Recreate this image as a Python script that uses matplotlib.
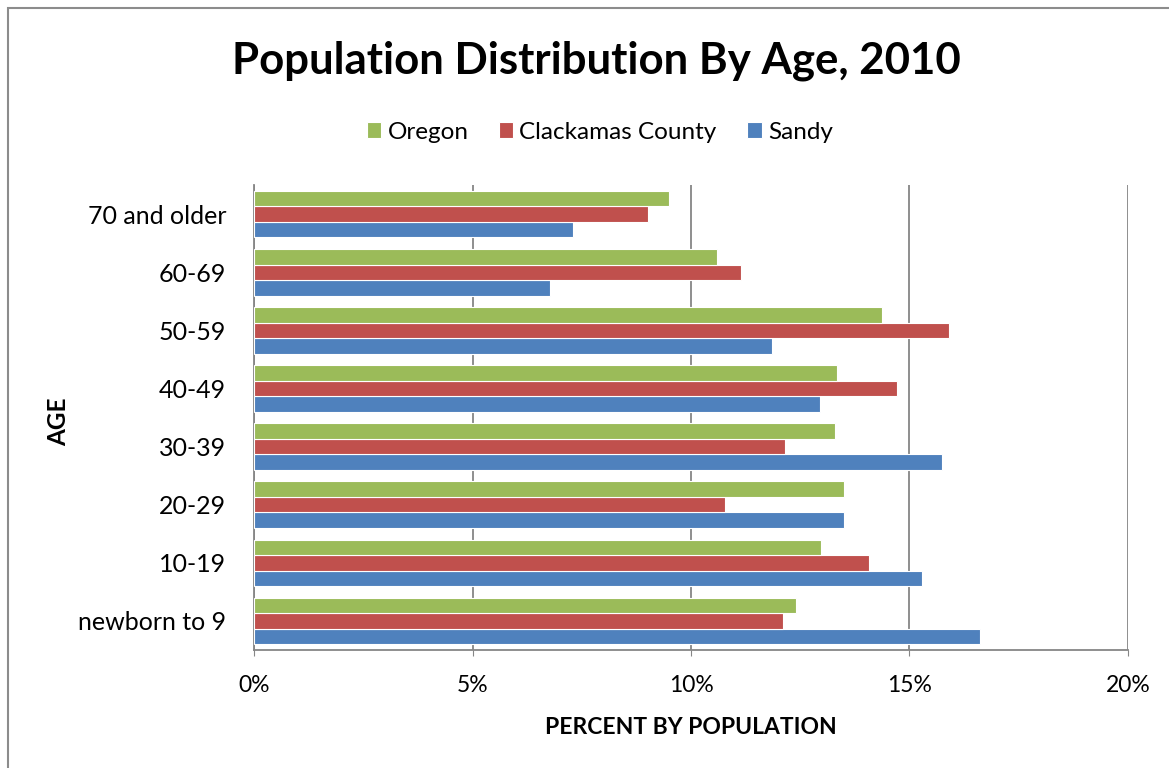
import matplotlib.pyplot as plt
import numpy as np
from matplotlib.patches import Rectangle
from matplotlib.ticker import FuncFormatter, MultipleLocator

plt.rcParams["font.family"] = ["Lato", "DejaVu Sans"]

# Share of population in each age group, percent
age_groups = ["newborn to 9", "10-19", "20-29", "30-39",
              "40-49", "50-59", "60-69", "70 and older"]
oregon = [12.4, 12.97, 13.5, 13.3, 13.34, 14.37, 10.6, 9.5]
clackamas = [12.1, 14.07, 10.78, 12.15, 14.71, 15.9, 11.14, 9.02]
sandy = [16.61, 15.29, 13.5, 15.74, 12.95, 11.85, 6.77, 7.3]

series = [
    ("Sandy", sandy, "#4F81BD"),
    ("Clackamas County", clackamas, "#C0504D"),
    ("Oregon", oregon, "#9BBB59"),
]

fig = plt.figure(figsize=(11.69, 7.68), dpi=100)
ax = fig.add_axes([0.2173, 0.1536, 0.7476, 0.6054])

# outer chart border
fig.patches.append(Rectangle((0.007, -0.05), 1.2, 1.039, transform=fig.transFigure,
                             fill=False, edgecolor="#8c8c8c", linewidth=1.5))

y = np.arange(len(age_groups))
bar_h = 0.267
handles = {}
for i, (name, values, color) in enumerate(series):
    bars = ax.barh(y + (i - 1) * bar_h, values, height=bar_h, color=color,
                   edgecolor="white", linewidth=0.8, zorder=3)
    handles[name] = bars

ax.set_xlim(0, 20)
ax.set_ylim(-0.5, len(age_groups) - 0.5)
ax.xaxis.set_major_locator(MultipleLocator(5))
ax.xaxis.set_major_formatter(FuncFormatter(lambda v, _: f"{v:.0f}%"))
ax.grid(axis="x", color="#868686", linewidth=1.3, zorder=0)
ax.set_yticks(y)
ax.set_yticklabels(age_groups)
ax.tick_params(axis="y", length=0, labelsize=18, pad=20)
ax.tick_params(axis="x", length=4, color="#868686", labelsize=16.5, pad=14)

for side in ("top", "right"):
    ax.spines[side].set_visible(False)
for side in ("left", "bottom"):
    ax.spines[side].set_color("#868686")
    ax.spines[side].set_linewidth(1.3)

ax.set_xlabel("PERCENT BY POPULATION", fontsize=16.5, fontweight="bold", labelpad=15)
ax.set_ylabel("AGE", fontsize=17.5, fontweight="bold", va="center")
ax.yaxis.set_label_coords(-0.223, 0.49)

fig.text(0.51, 0.921, "Population Distribution By Age, 2010", ha="center",
         va="center", fontsize=31.5, fontweight="bold")

leg_order = ["Oregon", "Clackamas County", "Sandy"]
fig.legend([handles[n] for n in leg_order], leg_order, loc="center",
           bbox_to_anchor=(0.513, 0.828), ncol=3, frameon=False, fontsize=17.5,
           handlelength=0.6, handleheight=0.6, handletextpad=0.25, columnspacing=1.25)

fig.savefig("out.png", dpi=100)
